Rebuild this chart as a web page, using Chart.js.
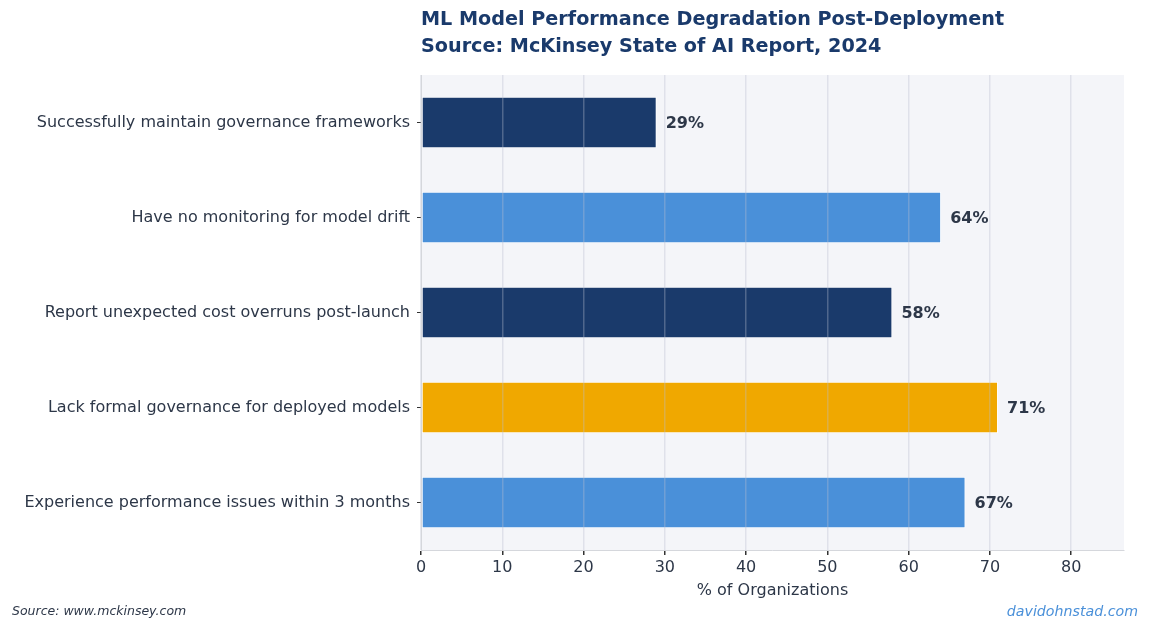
<!DOCTYPE html>
<html>
<head>
<meta charset="utf-8">
<script src="https://cdn.jsdelivr.net/npm/chart.js@4.4.1/dist/chart.umd.min.js"></script>
<style>
html,body{margin:0;padding:0;background:#fff;}
canvas{display:block;}
</style>
</head>
<body>
<canvas id="c" width="1150" height="631"></canvas>
<script>
const categories = [
  "Successfully maintain governance frameworks",
  "Have no monitoring for model drift",
  "Report unexpected cost overruns post-launch",
  "Lack formal governance for deployed models",
  "Experience performance issues within 3 months"
];
const values = [29, 64, 58, 71, 67];
const barColors = ["#1a3a6b", "#4a90d9", "#1a3a6b", "#f0a800", "#4a90d9"];
const xTicks = [0, 10, 20, 30, 40, 50, 60, 70, 80];
const titleLines = [
  "ML Model Performance Degradation Post-Deployment",
  "Source: McKinsey State of AI Report, 2024"
];
const xAxisTitle = "% of Organizations";
const sourceNote = "Source: www.mckinsey.com";
const brand = "davidohnstad.com";

const FONT = "'DejaVu Sans', sans-serif";
const TEXT = "#2d3748";

const bgPlugin = {
  id: 'bg',
  beforeDraw(chart) {
    const {ctx, chartArea: a} = chart;
    ctx.save();
    ctx.fillStyle = '#f4f5f9';
    ctx.fillRect(a.left, a.top, a.right - a.left, a.bottom - a.top);
    ctx.restore();
  }
};

const labelPlugin = {
  id: 'labels',
  afterDraw(chart) {
    const ctx = chart.ctx;
    const meta = chart.getDatasetMeta(0);
    ctx.save();
    ctx.font = "bold 16px " + FONT;
    ctx.fillStyle = TEXT;
    ctx.textAlign = 'left';
    ctx.textBaseline = 'middle';
    meta.data.forEach((bar, i) => {
      ctx.fillText(values[i] + '%', bar.x + 9, bar.y + 1);
    });
    const a = chart.chartArea;
    ctx.font = "bold 19.2px " + FONT;
    ctx.fillStyle = '#1a3a6b';
    ctx.textBaseline = 'middle';
    ctx.fillText(titleLines[0], a.left, 20);
    ctx.fillText(titleLines[1], a.left, 47);
    ctx.font = "italic 12.5px " + FONT;
    ctx.fillStyle = TEXT;
    ctx.textAlign = 'left';
    ctx.fillText(sourceNote, 12, 612);
    ctx.font = "italic 14.2px " + FONT;
    ctx.fillStyle = '#4a90d9';
    ctx.textAlign = 'right';
    ctx.fillText(brand, 1138, 612);
    ctx.restore();
  }
};

new Chart(document.getElementById('c'), {
  type: 'bar',
  data: {
    labels: categories,
    datasets: [{
      data: values,
      backgroundColor: barColors,
      borderColor: '#ffffff',
      borderWidth: 1,
      borderSkipped: false,
      barPercentage: 0.54,
      categoryPercentage: 1.0
    }]
  },
  options: {
    indexAxis: 'y',
    responsive: false,
    animation: false,
    devicePixelRatio: 1,
    layout: { padding: { top: 75, right: 26, bottom: 31, left: 0 } },
    plugins: { legend: { display: false }, tooltip: { enabled: false }, title: { display: false } },
    scales: {
      x: {
        type: 'linear',
        min: 0,
        max: 86.5,
        afterFit(scale) { scale.height = 50; },
        afterBuildTicks(scale) { scale.ticks = xTicks.map(v => ({ value: v })); },
        ticks: {
          font: { family: FONT, size: 16 },
          color: TEXT,
          padding: 3,
          includeBounds: false
        },
        grid: {
          z: 1,
          color: 'rgba(184,190,205,0.35)',
          lineWidth: 1.5,
          drawTicks: true,
          tickLength: 5,
          tickColor: '#333333'
        },
        border: { display: true, color: '#d5d7dc', width: 1, z: 2 },
        title: {
          display: true,
          text: xAxisTitle,
          font: { family: FONT, size: 16 },
          color: TEXT,
          padding: { top: 3, bottom: 0 }
        }
      },
      y: {
        afterFit(scale) { scale.width = 421; },
        ticks: {
          font: { family: FONT, size: 16 },
          color: TEXT,
          padding: 7
        },
        grid: {
          offset: false,
          drawOnChartArea: false,
          drawTicks: true,
          tickLength: 4,
          tickColor: '#333333'
        },
        border: { display: true, color: '#d5d7dc', width: 1, z: 2 }
      }
    }
  },
  plugins: [bgPlugin, labelPlugin]
});
</script>
</body>
</html>
